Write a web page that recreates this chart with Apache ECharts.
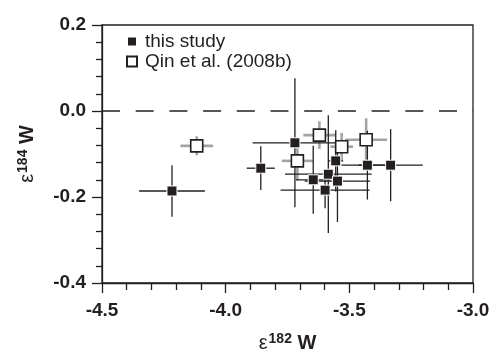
<!DOCTYPE html>
<html><head><meta charset="utf-8">
<script src="https://cdn.jsdelivr.net/npm/echarts@6/dist/echarts.min.js"></script>
<style>html,body{margin:0;padding:0;background:#fff}#c{width:492px;height:352px}</style>
</head><body><div id="c"></div>
<script>
// axis ticks
const xTickValues = [-4.5, -4.0, -3.5, -3.0];
const yTickValues = [0.2, 0.0, -0.2, -0.4];

// this study (filled squares)
const studyX    = [-4.217, -3.858, -3.720, -3.555, -3.585, -3.646, -3.548, -3.598, -3.427, -3.333];
const studyY    = [-0.186, -0.133, -0.074, -0.116, -0.147, -0.160, -0.163, -0.184, -0.126, -0.126];
const studyXErr = [0.133, 0.057, 0.171, 0.030, 0.175, 0.070, 0.132, 0.180, 0.105, 0.130];
const studyYErr = [0.060, 0.051, 0.150, 0.071, 0.137, 0.079, 0.095, 0.042, 0.080, 0.084];

// Qin et al. (2008b) (open squares)
const qinX    = [-4.117, -3.621, -3.710, -3.531, -3.432];
const qinY    = [-0.081, -0.056, -0.116, -0.083, -0.067];
const qinXErr = [0.066, 0.065, 0.063, 0.046, 0.085];
const qinYErr = [0.022, 0.032, 0.045, 0.032, 0.050];

const FONT = '"Liberation Sans", Arial, sans-serif';
const INK = '#231f20';
const GRAY = '#a3a3a3';

function errSeries(name, xs, ys, xe, ye, color, width, z) {
  return {
    type: 'custom', name: name, z: z, silent: true,
    data: xs.map((x, i) => [x, ys[i], xe[i], ye[i]]),
    encode: { x: 0, y: 1 },
    renderItem: function (params, api) {
      const x = api.value(0), y = api.value(1), dx = api.value(2), dy = api.value(3);
      const l = api.coord([x - dx, y]), r = api.coord([x + dx, y]);
      const t = api.coord([x, y + dy]), b = api.coord([x, y - dy]);
      return { type: 'group', children: [
        { type: 'line', shape: { x1: l[0], y1: l[1], x2: r[0], y2: r[1] }, style: { stroke: color, lineWidth: width } },
        { type: 'line', shape: { x1: t[0], y1: t[1], x2: b[0], y2: b[1] }, style: { stroke: color, lineWidth: width } }
      ]};
    }
  };
}

const chart = echarts.init(document.getElementById('c'), null, { renderer: 'canvas' });
chart.setOption({
  animation: false,
  backgroundColor: '#fff',
  textStyle: { fontFamily: FONT },
  grid: { left: 102, top: 25, right: 19, bottom: 69, outerBoundsMode: 'none', containLabel: false,
    show: true, borderColor: INK, borderWidth: 1.3, backgroundColor: 'transparent' },
  legend: {
    left: 121, top: 27, orient: 'vertical', itemGap: 1, itemWidth: 10, itemHeight: 10,
    data: ['this study', 'Qin et al. (2008b)'],
    textStyle: { fontFamily: FONT, fontSize: 19, color: INK, padding: [0, 0, 0, 3] }
  },
  xAxis: {
    type: 'value', min: -4.5, max: -3.0, interval: 0.5,
    axisLine: { show: true, onZero: false, lineStyle: { color: INK, width: 1.3 } },
    axisTick: { show: true, length: 10, lineStyle: { color: INK, width: 1.3 } },
    minorTick: { show: true, splitNumber: 5, length: 7, lineStyle: { color: INK, width: 1.3 } },
    splitLine: { show: false },
    axisLabel: { margin: 18, fontFamily: FONT, fontSize: 19, fontWeight: 'bold', color: INK,
      formatter: v => v.toFixed(1) },
    name: '{e|ε}{s|182}{w| W}', nameLocation: 'middle', nameGap: 49,
    nameTextStyle: { rich: {
      e: { fontFamily: FONT, fontSize: 20, color: INK },
      s: { fontFamily: FONT, fontSize: 14, fontWeight: 'bold', color: INK, verticalAlign: 'top', padding: [0, 0, 8, 1] },
      w: { fontFamily: FONT, fontSize: 20, fontWeight: 'bold', color: INK }
    } }
  },
  yAxis: {
    type: 'value', min: -0.4, max: 0.2, interval: 0.2,
    axisLine: { show: true, onZero: false, lineStyle: { color: INK, width: 1.3 } },
    axisTick: { show: true, length: 10, lineStyle: { color: INK, width: 1.3 } },
    minorTick: { show: true, splitNumber: 5, length: 6, lineStyle: { color: INK, width: 1.3 } },
    splitLine: { show: false },
    axisLabel: { margin: 16, fontFamily: FONT, fontSize: 19, fontWeight: 'bold', color: INK,
      formatter: v => v.toFixed(1) },
    name: '{e|ε}{s|184}{w| W}', nameLocation: 'middle', nameGap: 64, nameRotate: 90,
    nameTextStyle: { rich: {
      e: { fontFamily: FONT, fontSize: 20, color: INK },
      s: { fontFamily: FONT, fontSize: 14, fontWeight: 'bold', color: INK, verticalAlign: 'top', padding: [0, 0, 8, 1] },
      w: { fontFamily: FONT, fontSize: 20, fontWeight: 'bold', color: INK }
    } }
  },
  series: [
    errSeries('qinErr', qinX, qinY, qinXErr, qinYErr, GRAY, 2.6, 1),
    errSeries('studyErr', studyX, studyY, studyXErr, studyYErr, INK, 1.3, 2),
    {
      type: 'line', name: 'zero', silent: true, z: 0, symbol: 'none',
      data: [[-4.5, 0], [-3.0, 0]],
      lineStyle: { color: INK, width: 1.3, type: [18, 15.7] }
    },
    {
      type: 'scatter', name: 'Qin et al. (2008b)', z: 3, symbol: 'rect', symbolSize: 12,
      data: qinX.map((x, i) => [x, qinY[i]]),
      itemStyle: { color: '#fff', borderColor: INK, borderWidth: 1.6, opacity: 1 }
    },
    {
      type: 'scatter', name: 'this study', z: 4, symbol: 'rect', symbolSize: 10,
      data: studyX.map((x, i) => [x, studyY[i]]),
      itemStyle: { color: INK, borderColor: '#fff', borderWidth: 1, opacity: 1 }
    }
  ]
});
</script></body></html>
